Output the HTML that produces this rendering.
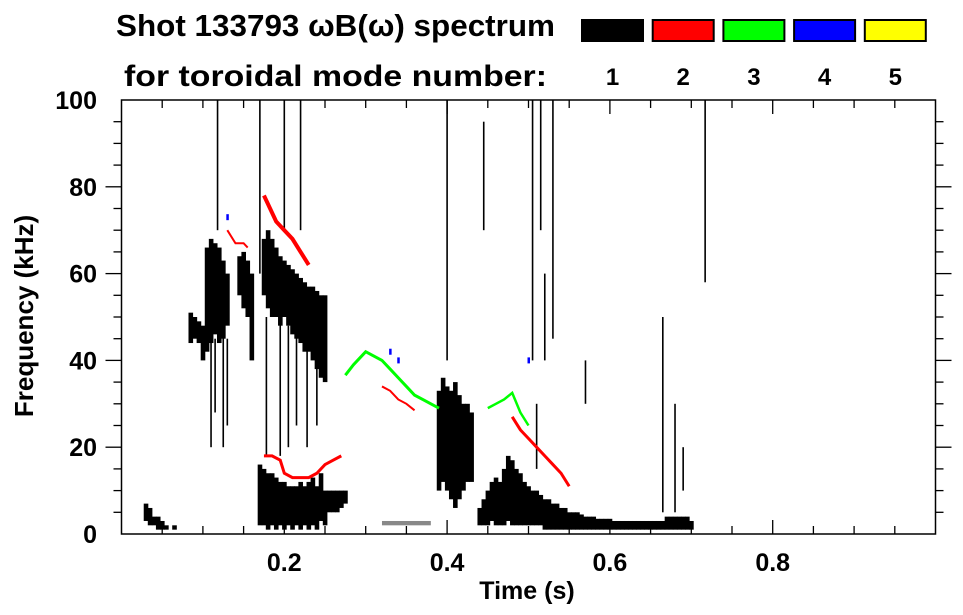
<!DOCTYPE html>
<html><head><meta charset="utf-8"><style>
html,body{margin:0;padding:0;background:#fff;}
svg{display:block;font-family:"Liberation Sans",sans-serif;font-weight:bold;}
</style></head><body>
<svg id="chart" width="963" height="615" viewBox="0 0 963 615" xmlns="http://www.w3.org/2000/svg">
<text x="116" y="36" font-size="31" textLength="439" lengthAdjust="spacingAndGlyphs">Shot 133793 ωB(ω) spectrum</text>
<text x="124" y="86" font-size="30" textLength="423" lengthAdjust="spacingAndGlyphs">for toroidal mode number:</text>
<g id="legend"></g>
<g id="marks"></g>
<g id="axes"></g>
<text x="527" y="599" font-size="25" text-anchor="middle">Time (s)</text>
<text transform="translate(33,316) rotate(-90)" font-size="26" text-anchor="middle">Frequency (kHz)</text>
</svg>
<script>
const legendLabels = ["1","2","3","4","5"];
const legendColors = ["#000","#f00","#0f0","#00f","#ff0"];
const xTicks = [0.2,0.4,0.6,0.8];
const yTicks = [0,20,40,60,80,100];
// black (n=1) columns: [time s, fLow kHz, fHigh kHz]
const blackCols = [
[0.03,3,7],[0.035,2,6],[0.04,2,4],[0.045,1,4],[0.05,1,3],[0.055,1,2],[0.065,1,2],
[0.085,44,51],[0.09,45,50],[0.095,44,49],[0.1,40,48],
[0.105,42,66],[0.11,44,68],[0.115,46,67],[0.12,44,66],[0.125,45,63],[0.13,48,60],
[0.145,55,64],[0.15,52,65],[0.155,50,63],[0.16,40,60],
[0.175,55,68],[0.18,52,70],[0.185,50,68],[0.19,50,66],[0.195,48,64],[0.2,50,63],[0.205,48,62],[0.21,46,61],[0.215,45,60],[0.22,44,59],[0.225,42,58],[0.23,42,57],[0.235,40,57],[0.24,38,56],[0.245,36,55],[0.25,35,55],
[0.17,2,16],[0.175,2,15],[0.18,1,14],[0.185,2,14],[0.19,1,13],[0.195,2,12],[0.2,1,12],[0.205,2,11],[0.21,1,11],[0.215,2,11],[0.22,1,12],[0.225,2,11],[0.23,1,12],[0.235,2,13],[0.24,1,11],[0.245,3,14],[0.25,2,10],[0.255,5,10],[0.26,5,10],[0.265,5,10],[0.27,6,10],[0.275,7,10],
[0.39,10,33],[0.395,12,36],[0.4,10,34],[0.405,8,33],[0.41,6,35],[0.415,8,32],[0.42,10,30],[0.425,12,30],[0.43,12,28],
[0.44,2,6],[0.445,2,8],[0.45,2,10],[0.455,3,12],[0.46,2,13],[0.465,2,12],[0.47,2,15],[0.475,3,18],[0.48,2,17],[0.485,2,15],[0.49,2,14],[0.495,2,12],[0.5,2,11],[0.505,2,10],[0.51,2,10],[0.515,2,9],[0.52,1,8],[0.525,1,8],[0.53,1,7],[0.535,1,7],[0.54,1,6],[0.545,1,6],[0.55,1,5],[0.555,1,5],[0.56,1,5],[0.565,1,4.5],[0.57,1,4],[0.575,1,4],[0.58,1,4],[0.585,1,3.5],[0.59,1,3.5],[0.595,1,3.5],[0.6,1,3.5],[0.605,1,3],[0.61,1,3],[0.615,1,3],[0.62,1,3],[0.625,1,3],[0.63,1,3],[0.635,1,3],[0.64,1,3],[0.645,1,3],[0.65,1,3],[0.655,1,3],[0.66,1,3],[0.665,1,3],[0.67,1,4],[0.675,1,4],[0.68,1,4],[0.685,1,4],[0.69,1,4],[0.695,1,4],[0.7,1,3]
];
// thin streaks: [time, fLow, fHigh]
const blackStreaks = [
[0.717,58,100],[0.118,70,100],[0.125,20,50],[0.13,25,45],[0.11,20,45],[0.115,28,45],[0.17,60,100],[0.178,18,50],[0.195,18,50],[0.2,70,100],[0.205,20,48],[0.215,25,50],[0.22,70,100],[0.228,20,45],[0.24,25,40],[0.4,40,100],[0.505,40,100],[0.51,15,30],[0.515,70,100],[0.52,40,60],[0.53,45,100],[0.665,5,50],[0.68,5,30],[0.69,10,20],[0.445,70,95],[0.57,30,40]
];
const lowBand = [[0.32,0.38,2,3]];
// red (n=2) traces: [time, freq]
const redT1 = [0.175,0.18,0.19,0.2,0.21,0.22,0.23], redF1 = [78,76,72,70,68,65,62];
const redT2 = [0.175,0.185,0.195,0.2,0.21,0.22,0.23,0.24,0.25,0.26,0.27], redF2 = [18,18,17,14,13,13,13,14,16,17,18];
const redT3 = [0.32,0.33,0.34,0.35,0.36], redF3 = [34,33,31,30,28.5];
const redT4 = [0.48,0.49,0.5,0.51,0.52,0.53,0.54,0.55], redF4 = [27,24,22,20,18,16,14,11];
const redT5 = [0.13,0.14,0.15,0.155], redF5 = [70,67,67,66];
// green (n=3)
const greenT1 = [0.275,0.285,0.295,0.3,0.31,0.32,0.33,0.34,0.35,0.36,0.37,0.38,0.39], greenF1 = [36.6,39,41,42,41,40,38,36,34,32,31,30,29];
const greenT2 = [0.45,0.46,0.47,0.48,0.49,0.5], greenF2 = [29,30,31,32.5,28,25];
// blue (n=4) bits
const blueT = [0.33,0.34,0.5,0.13], blueF = [42,40,40,73];

const NS="http://www.w3.org/2000/svg";
const X0=121.5,X1=935.5,Y0=534,Y1=100;
const xs=t=>X0+(X1-X0)*t;
const ys=f=>Y0-(Y0-Y1)*f/100;
const marks=document.getElementById('marks');
const axes=document.getElementById('axes');
const legend=document.getElementById('legend');
function mk(tag,attrs,parent){const e=document.createElementNS(NS,tag);for(const k in attrs)e.setAttribute(k,attrs[k]);parent.appendChild(e);return e;}

legendLabels.forEach((lab,i)=>{
  const bx=582+i*70.7;
  const r=mk('rect',{x:bx,y:20,width:61,height:21,fill:legendColors[i],stroke:'#000','stroke-width':2},legend);
  
  
  const t=mk('text',{x:bx+30.5,y:85,'font-size':24,'text-anchor':'middle'},legend);
  t.textContent=lab;
  
  
});

blackCols.forEach(c=>{
  const r=mk('rect',{x:xs(c[0])-2.2,y:ys(c[2]),width:4.6,height:ys(c[1])-ys(c[2]),fill:'#000'},marks);
  
  
});
blackStreaks.forEach(c=>{
  const r=mk('rect',{x:xs(c[0])-0.8,y:ys(c[2]),width:1.6,height:ys(c[1])-ys(c[2]),fill:'#000'},marks);
  
  
});
lowBand.forEach(c=>{
  const r=mk('rect',{x:xs(c[0]),y:ys(c[3]),width:xs(c[1])-xs(c[0]),height:ys(c[2])-ys(c[3]),fill:'#888'},marks);
  
  
});
function trace(T,F,color,name,w){
  const p=mk('polyline',{points:T.map((t,i)=>xs(t)+','+ys(F[i])).join(' '),fill:'none',stroke:color,'stroke-width':w},marks);
  
  
}
trace(redT1,redF1,'#f00','mode2-trace-upper',4);
trace(redT2,redF2,'#f00','mode2-trace-low',3);
trace(redT3,redF3,'#f00','mode2-trace-mid',2);
trace(redT4,redF4,'#f00','mode2-trace-late',3);
trace(redT5,redF5,'#f00','mode2-trace-early',2);
trace(greenT1,greenF1,'#0f0','mode3-trace-arch',3);
trace(greenT2,greenF2,'#0f0','mode3-trace-late',2.5);
blueT.forEach((t,i)=>{
  const r=mk('rect',{x:xs(t)-1,y:ys(blueF[i])-3,width:2.5,height:6,fill:'#00f'},marks);
  
  
});

const fr=mk('rect',{x:X0,y:Y1,width:X1-X0,height:Y0-Y1,fill:'none',stroke:'#000','stroke-width':1.5},axes);


for(let t=0.05;t<1;t+=0.05){
  const major=Math.abs(t*10-Math.round(t*10))<0.01&&Math.round(t*10)%2===0;
  const L=major?14:8;
  mk('line',{x1:xs(t),x2:xs(t),y1:Y0,y2:Y0-L,stroke:'#000','stroke-width':1.3},axes);
  mk('line',{x1:xs(t),x2:xs(t),y1:Y1,y2:Y1+L,stroke:'#000','stroke-width':1.3},axes);
}
for(let f=5;f<100;f+=5){
  const major=f%20===0;const L=major?16:8;
  mk('line',{x1:X0,x2:X0-L,y1:ys(f),y2:ys(f),stroke:'#000','stroke-width':1.3},axes);
  mk('line',{x1:X1,x2:X1+L,y1:ys(f),y2:ys(f),stroke:'#000','stroke-width':1.3},axes);
}
xTicks.forEach(t=>{
  const e=mk('text',{x:xs(t),y:571,'font-size':25,'text-anchor':'middle'},axes);
  e.textContent=t.toFixed(1);
  
  
});
yTicks.forEach(f=>{
  const e=mk('text',{x:97,y:ys(f)+9,'font-size':25,'text-anchor':'end'},axes);
  e.textContent=String(f);
  
  
});
</script>
</body></html>
